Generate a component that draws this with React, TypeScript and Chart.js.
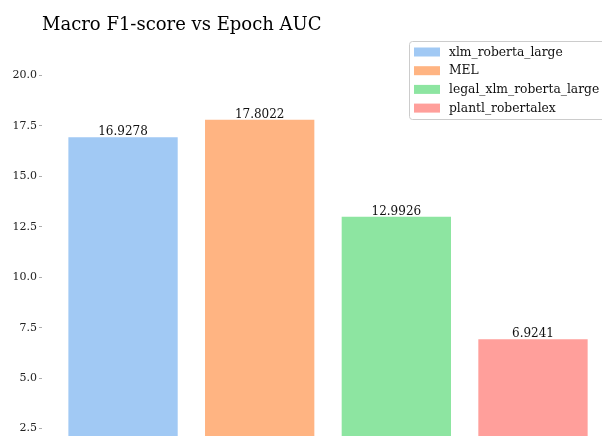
import React, { useEffect, useRef } from "react";
import { Chart, registerables } from "chart.js";

Chart.register(...registerables);

const titleText = "Macro F1-score vs Epoch AUC";
const categories = ["xlm_roberta_large", "MEL", "legal_xlm_roberta_large", "plantl_robertalex"];
const values = [16.9278, 17.8022, 12.9926, 6.9241];
const colors = ["#a1c9f4", "#ffb482", "#8de5a1", "#ff9f9b"];
const yTicks = [2.5, 5.0, 7.5, 10.0, 12.5, 15.0, 17.5, 20.0];

const SERIF = "'DejaVu Serif', serif";

const titlePlugin = {
  id: "leftTitle",
  afterDraw(chart: any) {
    const ctx = chart.ctx;
    ctx.save();
    ctx.font = `18px ${SERIF}`;
    ctx.fillStyle = "#000";
    ctx.textAlign = "left";
    ctx.textBaseline = "alphabetic";
    ctx.fillText(titleText, chart.chartArea.left, 30);
    ctx.restore();
  },
};

const barLabelPlugin = {
  id: "barLabels",
  afterDatasetsDraw(chart: any) {
    const ctx = chart.ctx;
    const meta = chart.getDatasetMeta(0);
    ctx.save();
    ctx.font = `12px ${SERIF}`;
    ctx.fillStyle = "#111";
    ctx.textAlign = "center";
    ctx.textBaseline = "alphabetic";
    meta.data.forEach((bar: any, i: number) => {
      ctx.fillText(values[i].toFixed(4), bar.x, bar.y - 2);
    });
    ctx.restore();
  },
};

const legendPlugin = {
  id: "innerLegend",
  afterDraw(chart: any) {
    const ctx = chart.ctx;
    const left = 409.5;
    const top = 41.5;
    const w = 260;
    const rowH = 18.7;
    const h = 78;
    ctx.save();
    ctx.beginPath();
    if (ctx.roundRect) ctx.roundRect(left, top, w, h, 3);
    else ctx.rect(left, top, w, h);
    ctx.fillStyle = "rgba(255,255,255,0.8)";
    ctx.fill();
    ctx.strokeStyle = "#cccccc";
    ctx.lineWidth = 1;
    ctx.stroke();
    ctx.font = `12.3px ${SERIF}`;
    ctx.textAlign = "left";
    ctx.textBaseline = "middle";
    categories.forEach((c, i) => {
      const cy = 52 + i * rowH;
      ctx.fillStyle = colors[i];
      ctx.fillRect(414, cy - 4.5, 26, 9);
      ctx.fillStyle = "#111";
      ctx.fillText(c, 449, cy + 0.5);
    });
    ctx.restore();
  },
};

export default function App() {
  const ref = useRef<HTMLCanvasElement | null>(null);

  useEffect(() => {
    document.body.style.margin = "0";
    document.body.style.overflow = "hidden";
    const canvas = ref.current;
    if (!canvas) return;
    const chart = new Chart(canvas, {
      type: "bar",
      data: {
        datasets: [
          {
            label: "Macro F1-score",
            data: values.map((v, i) => ({ x: i, y: v })),
            backgroundColor: colors,
            borderWidth: 0,
            barPercentage: 0.8,
            categoryPercentage: 1.0,
          },
        ],
      },
      options: {
        responsive: false,
        animation: false,
        layout: { padding: { top: 38, left: 0, right: 0, bottom: 0 } },
        plugins: {
          legend: { display: false },
          title: { display: false },
          tooltip: { enabled: false },
        },
        scales: {
          x: {
            type: "linear",
            display: false,
            offset: false,
            min: -0.593,
            max: 3.505,
            afterBuildTicks: (scale: any) => {
              scale.ticks = categories.map((_, i) => ({ value: i }));
            },
          },
          y: {
            type: "linear",
            min: 2.135,
            max: 21.85,
            beginAtZero: false,
            border: { display: false },
            grid: {
              drawOnChartArea: false,
              drawTicks: true,
              tickLength: 3,
              color: "#999999",
              tickColor: "#999999",
              lineWidth: 0.8,
            },
            afterBuildTicks: (scale: any) => {
              scale.ticks = yTicks.map((v) => ({ value: v }));
            },
            afterFit: (scale: any) => {
              scale.width = 42;
              scale.paddingTop = 0;
              scale.paddingBottom = 0;
            },
            ticks: {
              padding: 2,
              color: "#222",
              font: { family: SERIF, size: 11 },
              callback: (v: any) => Number(v).toFixed(1),
            },
          },
        },
      },
      plugins: [titlePlugin, barLabelPlugin, legendPlugin],
    } as any);
    return () => chart.destroy();
  }, []);

  return (
    <div style={{ width: 602, height: 436, overflow: "hidden" }}>
      <canvas ref={ref} width={602} height={436} style={{ display: "block" }} />
    </div>
  );
}
